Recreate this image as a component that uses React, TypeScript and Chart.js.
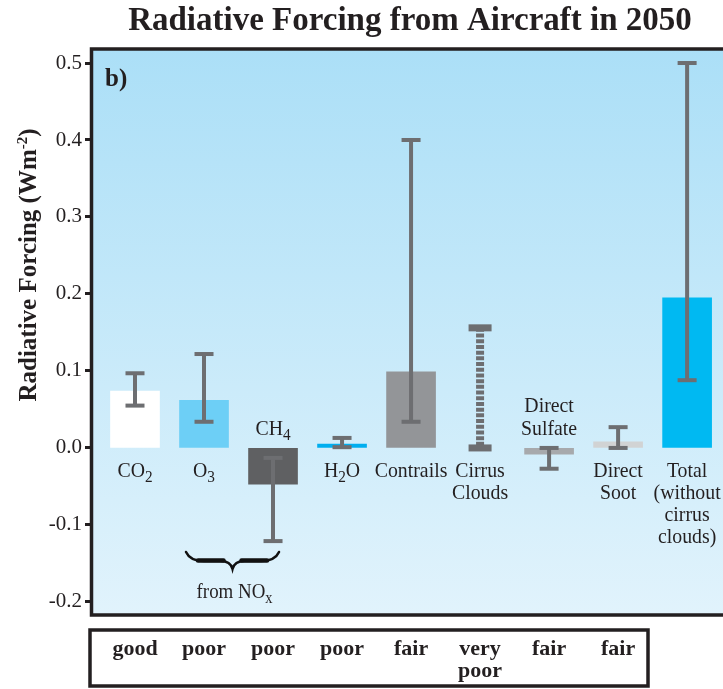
import React, { useEffect, useRef } from 'react';
import { Chart, registerables } from 'chart.js';

Chart.register(...registerables);

// ---- data ----
const categories = ['CO2', 'O3', 'CH4', 'H2O', 'Contrails', 'Cirrus Clouds', 'Direct Sulfate', 'Direct Soot', 'Total (without cirrus clouds)'];
const labelLines = [['CO_2'], ['O_3'], ['CH_4'], ['H_2O'], ['Contrails'], ['Cirrus', 'Clouds'], ['Direct', 'Sulfate'], ['Direct', 'Soot'], ['Total', '(without', 'cirrus', 'clouds)']];
const bestEstimate: (number | null)[] = [0.074, 0.062, -0.047, 0.005, 0.099, null, -0.008, 0.008, 0.195];
const errorLow = [0.055, 0.034, -0.121, 0.001, 0.034, 0.0, -0.027, 0.0, 0.088];
const errorHigh = [0.097, 0.122, -0.013, 0.013, 0.4, 0.156, 0.0, 0.027, 0.5];
const understanding = ['good', 'poor', 'poor', 'poor', 'fair', 'very poor', 'fair', 'fair'];
const yTicks = [-0.2, -0.1, 0.0, 0.1, 0.2, 0.3, 0.4, 0.5];

// ---- styles ----
const barColors = ['#ffffff', '#6dcff6', '#5f6062', '#00aeef', '#939598', 'rgba(0,0,0,0)', '#a7a9ac', '#d1d3d4', '#00b9f2'];
const labelAbove = [false, false, true, false, false, false, true, false, false];
const dashedError = [false, false, false, false, false, true, false, false, false];
const INK = '#231f20';
const ERR = '#6d6e71';
const SERIF = '"Liberation Serif", "Times New Roman", serif';

function drawRich(ctx: CanvasRenderingContext2D, text: string, cx: number, baseY: number, size: number, bold: boolean, sx: number) {
  const segs: { t: string; sub: boolean }[] = [];
  for (let i = 0; i < text.length; i++) {
    if (text[i] === '_') {
      segs.push({ t: text[i + 1], sub: true });
      i++;
    } else if (segs.length && !segs[segs.length - 1].sub) {
      segs[segs.length - 1].t += text[i];
    } else {
      segs.push({ t: text[i], sub: false });
    }
  }
  const main = `${bold ? 'bold ' : ''}${size}px ${SERIF}`;
  const sub = `${bold ? 'bold ' : ''}${Math.round(size * 0.75)}px ${SERIF}`;
  let total = 0;
  for (const s of segs) {
    ctx.font = s.sub ? sub : main;
    total += ctx.measureText(s.t).width;
  }
  ctx.save();
  ctx.translate(cx, baseY);
  ctx.scale(sx, 1);
  let x = -total / 2;
  ctx.textAlign = 'left';
  ctx.textBaseline = 'alphabetic';
  for (const s of segs) {
    ctx.font = s.sub ? sub : main;
    ctx.fillText(s.t, x, s.sub ? size * 0.22 : 0);
    x += ctx.measureText(s.t).width;
  }
  ctx.restore();
}

const decorPlugin = {
  id: 'decor',
  beforeDraw(chart: any) {
    const { ctx, chartArea: a } = chart;
    ctx.save();
    const g = ctx.createLinearGradient(0, a.top, 0, a.bottom);
    g.addColorStop(0, '#abdff7');
    g.addColorStop(1, '#e1f3fc');
    ctx.fillStyle = g;
    ctx.fillRect(a.left, a.top, a.right - a.left, a.bottom - a.top);
    ctx.restore();
  },
  afterDatasetsDraw(chart: any) {
    const { ctx, chartArea: a, scales } = chart;
    const xs = scales.x;
    const ys = scales.y;
    const zero = ys.getPixelForValue(0);
    ctx.save();
    // error bars
    for (let i = 0; i < categories.length; i++) {
      const x = xs.getPixelForValue(i);
      const yH = ys.getPixelForValue(errorHigh[i]);
      const yL = ys.getPixelForValue(errorLow[i]);
      ctx.fillStyle = ERR;
      ctx.strokeStyle = ERR;
      if (dashedError[i]) {
        ctx.lineWidth = 8;
        ctx.setLineDash([4, 1.7]);
        ctx.beginPath();
        ctx.moveTo(x, yH);
        ctx.lineTo(x, yL);
        ctx.stroke();
        ctx.setLineDash([]);
        ctx.fillRect(x - 11.5, yH - 3.5, 23, 7);
        ctx.fillRect(x - 11.5, yL - 3.5, 23, 7);
      } else {
        ctx.lineWidth = 4;
        ctx.beginPath();
        ctx.moveTo(x, yH);
        ctx.lineTo(x, yL);
        ctx.stroke();
        ctx.fillRect(x - 9.5, yH - 2, 19, 4);
        ctx.fillRect(x - 9.5, yL - 2, 19, 4);
      }
    }
    // category labels
    ctx.fillStyle = INK;
    for (let i = 0; i < categories.length; i++) {
      const x = xs.getPixelForValue(i);
      const lines = labelLines[i];
      if (labelAbove[i]) {
        const lh = 23;
        for (let k = 0; k < lines.length; k++) {
          const base = zero - 13 - (lines.length - 1 - k) * lh;
          drawRich(ctx, lines[k], x, base, 22, false, 0.9);
        }
      } else {
        for (let k = 0; k < lines.length; k++) {
          drawRich(ctx, lines[k], x, zero + 29 + k * 22, 22, false, 0.9);
        }
      }
    }
    // brace under O3 and CH4 ("from NOx")
    const bl = xs.getPixelForValue(1) - 18;
    const br = xs.getPixelForValue(2) + 6;
    const bm = (bl + br) / 2;
    const bt = zero + 104;
    const bmid = zero + 113;
    const bb = zero + 121;
    ctx.strokeStyle = '#111';
    ctx.lineCap = 'round';
    ctx.lineWidth = 2.5;
    ctx.beginPath();
    ctx.moveTo(bl, bt);
    ctx.quadraticCurveTo(bl + 4, bmid, bl + 18, bmid);
    ctx.lineTo(bm - 12, bmid);
    ctx.quadraticCurveTo(bm - 2, bmid, bm, bb);
    ctx.quadraticCurveTo(bm + 2, bmid, bm + 12, bmid);
    ctx.lineTo(br - 18, bmid);
    ctx.quadraticCurveTo(br - 4, bmid, br, bt);
    ctx.stroke();
    ctx.lineWidth = 4.5;
    ctx.beginPath();
    ctx.moveTo(bl + 12, bmid - 0.5);
    ctx.lineTo(bm - 9, bmid - 0.5);
    ctx.moveTo(bm + 9, bmid - 0.5);
    ctx.lineTo(br - 12, bmid - 0.5);
    ctx.stroke();
    ctx.fillStyle = INK;
    drawRich(ctx, 'from NO_x', bm + 2, zero + 150, 21, false, 0.9);

    // frame
    ctx.strokeStyle = INK;
    ctx.lineWidth = 3.5;
    ctx.lineCap = 'butt';
    ctx.beginPath();
    ctx.moveTo(a.right + 2, a.top + 1);
    ctx.lineTo(a.left + 1.5, a.top + 1);
    ctx.lineTo(a.left + 1.5, a.bottom);
    ctx.lineTo(a.right + 2, a.bottom);
    ctx.stroke();
    ctx.restore();
  },
  afterDraw(chart: any) {
    const { ctx, chartArea: a, scales } = chart;
    const xs = scales.x;
    ctx.save();
    ctx.fillStyle = INK;
    // title
    ctx.font = `bold 33px ${SERIF}`;
    ctx.textAlign = 'center';
    ctx.textBaseline = 'alphabetic';
    ctx.fillText('Radiative Forcing from Aircraft in 2050', 410, 30);
    // panel letter
    ctx.font = `bold 25px ${SERIF}`;
    ctx.textAlign = 'left';
    ctx.fillText('b)', a.left + 15, a.top + 38);
    // y axis title
    ctx.save();
    ctx.translate(36, 265);
    ctx.rotate(-Math.PI / 2);
    const p1 = 'Radiative Forcing (Wm';
    const p2 = '-2';
    const p3 = ')';
    ctx.font = `bold 25px ${SERIF}`;
    const w1 = ctx.measureText(p1).width;
    const w3 = ctx.measureText(p3).width;
    ctx.font = `bold 15px ${SERIF}`;
    const w2 = ctx.measureText(p2).width;
    let x = -(w1 + w2 + w3) / 2;
    ctx.font = `bold 25px ${SERIF}`;
    ctx.fillText(p1, x, 0);
    x += w1;
    ctx.font = `bold 15px ${SERIF}`;
    ctx.fillText(p2, x, -9);
    x += w2;
    ctx.font = `bold 25px ${SERIF}`;
    ctx.fillText(p3, x, 0);
    ctx.restore();
    // level of scientific understanding table
    const tTop = a.bottom + 15;
    const tBottom = chart.height - 3;
    ctx.strokeStyle = INK;
    ctx.lineWidth = 3.5;
    ctx.strokeRect(a.left, tTop, 558, tBottom - tTop);
    ctx.textAlign = 'center';
    ctx.font = `bold 22px ${SERIF}`;
    for (let i = 0; i < understanding.length; i++) {
      const cx = xs.getPixelForValue(i);
      const words = understanding[i].split(' ');
      words.forEach((w, k) => ctx.fillText(w, cx, tTop + 25 + k * 22));
    }
    ctx.restore();
  },
};

export default function App() {
  const ref = useRef<HTMLCanvasElement | null>(null);
  useEffect(() => {
    if (!ref.current) return;
    const chart = new Chart(ref.current, {
      type: 'bar',
      data: {
        datasets: [
          {
            label: 'Radiative forcing',
            data: categories.map((c, i) => ({ x: i, y: bestEstimate[i] })) as any,
            backgroundColor: barColors,
            borderWidth: 0,
            barThickness: 49,
          },
        ],
      },
      options: {
        responsive: false,
        animation: false,
        devicePixelRatio: 1,
        layout: { padding: { top: 48, bottom: 74, left: 0, right: 0 } },
        plugins: { legend: { display: false }, tooltip: { enabled: false }, title: { display: false } },
        scales: {
          x: {
            type: 'linear',
            min: -0.652,
            max: 8.52,
            offset: false,
            display: false,
            grid: { offset: false },
          },
          y: {
            type: 'linear',
            min: -0.217,
            max: 0.5195,
            afterFit: (s: any) => {
              s.width = 90;
            },
            afterBuildTicks: (s: any) => {
              s.ticks = yTicks.map((v) => ({ value: v }));
            },
            ticks: {
              callback: (v: any) => Number(v).toFixed(1),
              font: { family: SERIF, size: 21 },
              color: INK,
              padding: 3,
            },
            grid: { drawOnChartArea: false, drawTicks: true, tickLength: 5, tickWidth: 3, tickColor: INK },
            border: { display: false },
          },
        },
      },
      plugins: [decorPlugin],
    });
    return () => chart.destroy();
  }, []);
  return (
    <div style={{ position: 'absolute', left: 0, top: 0, width: 723, height: 689, background: '#fff' }}>
      <canvas ref={ref} width={723} height={689} style={{ width: 723, height: 689, display: 'block' }} />
    </div>
  );
}
